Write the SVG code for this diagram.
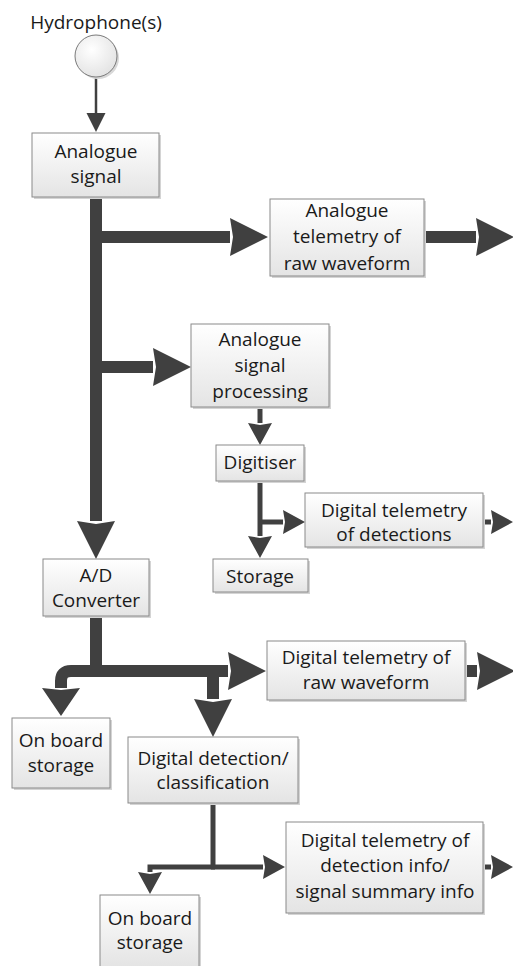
<svg xmlns="http://www.w3.org/2000/svg" width="513" height="966" viewBox="0 0 513 966">
<style>
  .bx{fill:url(#g);stroke:#8a8a8a;stroke-width:1}
  .sh{fill:#d4d4d4}
  .t{font-family:"Open Sans","Liberation Sans",sans-serif;font-size:19px;fill:#1a1a1a;text-anchor:middle}
  .k{fill:none;stroke:#404040;stroke-width:12}
  .n{fill:none;stroke:#404040;stroke-width:5}
  .s{fill:none;stroke:#404040;stroke-width:2.5}
</style>
<defs>
  <linearGradient id="g" x1="0" y1="0" x2="0" y2="1">
    <stop offset="0" stop-color="#ffffff"/>
    <stop offset="1" stop-color="#e4e4e4"/>
  </linearGradient>
  <radialGradient id="cg" cx="0.4" cy="0.35" r="0.7">
    <stop offset="0" stop-color="#ffffff"/>
    <stop offset="1" stop-color="#e2e2e2"/>
  </radialGradient>
  <marker id="ak" markerUnits="userSpaceOnUse" markerWidth="38" markerHeight="38" refX="0" refY="19" orient="auto" overflow="visible">
    <path d="M0,0 L38,19 L0,38 L3,19 z" fill="#404040"/>
  </marker>
  <marker id="aks" markerUnits="userSpaceOnUse" markerWidth="28" markerHeight="38" refX="0" refY="19" orient="auto" overflow="visible">
    <path d="M0,0 L28,19 L0,38 L2,19 z" fill="#404040"/>
  </marker>
  <marker id="an" markerUnits="userSpaceOnUse" markerWidth="22" markerHeight="24" refX="0" refY="12" orient="auto" overflow="visible">
    <path d="M0,0 L22,12 L0,24 L2,12 z" fill="#404040"/>
  </marker>
  <marker id="as" markerUnits="userSpaceOnUse" markerWidth="19" markerHeight="19" refX="0" refY="9.5" orient="auto" overflow="visible">
    <path d="M0,0 L19,9.5 L0,19 z" fill="#404040"/>
  </marker>
</defs>

<g id="connectors">
  <path class="s" d="M96,77 V113" marker-end="url(#as)"/>
  <path class="k" d="M96,197 V521" marker-end="url(#ak)"/>
  <path class="k" d="M96,237 H230" marker-end="url(#ak)"/>
  <path class="k" d="M424,237 H476" marker-end="url(#ak)"/>
  <path class="k" d="M96,367 H153" marker-end="url(#ak)"/>
  <path class="n" d="M260,407 V423" marker-end="url(#an)"/>
  <path class="n" d="M260,481 V536" marker-end="url(#an)"/>
  <path class="n" d="M260,522 H283" marker-end="url(#an)"/>
  <path class="n" d="M483,522 H491" marker-end="url(#an)"/>
  <path class="k" d="M96,616 V671"/>
  <path class="k" d="M96,671 H228" marker-end="url(#ak)"/>
  <path class="k" d="M100,671 H71 Q61,671 61,681 V688" marker-end="url(#aks)"/>
  <path class="k" d="M213,671 V699" marker-end="url(#ak)"/>
  <path class="k" d="M465,671 H477" marker-end="url(#ak)"/>
  <path class="n" d="M213,803 V867"/>
  <path class="n" d="M215,867 H150 V872" marker-end="url(#an)"/>
  <path class="n" d="M211,867 H263" marker-end="url(#an)"/>
  <path class="n" d="M483,867 H491" marker-end="url(#an)"/>
</g>

<g id="hydrophone">
  <circle cx="98" cy="58" r="21" fill="#d8d8d8"/>
  <circle cx="96" cy="56" r="21" fill="url(#cg)" stroke="#7a7a7a" stroke-width="1"/>
  <text class="t" x="96" y="29">Hydrophone(s)</text>
</g>

<g id="analogue-signal">
  <rect class="sh" x="34" y="135" width="127" height="64"/>
  <rect class="bx" x="32" y="133" width="127" height="64"/>
  <text class="t" x="96" y="158">Analogue</text>
  <text class="t" x="96" y="183">signal</text>
</g>

<g id="analogue-telemetry">
  <rect class="sh" x="272" y="201" width="154" height="77"/>
  <rect class="bx" x="270" y="199" width="154" height="77"/>
  <text class="t" x="347" y="217">Analogue</text>
  <text class="t" x="347" y="243">telemetry of</text>
  <text class="t" x="347" y="270">raw waveform</text>
</g>

<g id="analogue-processing">
  <rect class="sh" x="193" y="326" width="138" height="83"/>
  <rect class="bx" x="191" y="324" width="138" height="83"/>
  <text class="t" x="260" y="346">Analogue</text>
  <text class="t" x="260" y="372">signal</text>
  <text class="t" x="260" y="398">processing</text>
</g>

<g id="digitiser">
  <rect class="sh" x="218" y="447" width="88" height="36"/>
  <rect class="bx" x="216" y="445" width="88" height="36"/>
  <text class="t" x="260" y="469">Digitiser</text>
</g>

<g id="digital-telemetry-detections">
  <rect class="sh" x="307" y="495" width="178" height="54"/>
  <rect class="bx" x="305" y="493" width="178" height="54"/>
  <text class="t" x="394" y="517">Digital telemetry</text>
  <text class="t" x="394" y="541">of detections</text>
</g>

<g id="storage">
  <rect class="sh" x="215" y="561" width="95" height="33"/>
  <rect class="bx" x="213" y="559" width="95" height="33"/>
  <text class="t" x="260" y="583">Storage</text>
</g>

<g id="ad-converter">
  <rect class="sh" x="45" y="561" width="106" height="57"/>
  <rect class="bx" x="43" y="559" width="106" height="57"/>
  <text class="t" x="96" y="582">A/D</text>
  <text class="t" x="96" y="607">Converter</text>
</g>

<g id="digital-telemetry-raw">
  <rect class="sh" x="269" y="643" width="198" height="59"/>
  <rect class="bx" x="267" y="641" width="198" height="59"/>
  <text class="t" x="366" y="664">Digital telemetry of</text>
  <text class="t" x="366" y="689">raw waveform</text>
</g>

<g id="onboard-storage-1">
  <rect class="sh" x="14" y="720" width="98" height="70"/>
  <rect class="bx" x="12" y="718" width="98" height="70"/>
  <text class="t" x="61" y="747">On board</text>
  <text class="t" x="61" y="772">storage</text>
</g>

<g id="digital-detection">
  <rect class="sh" x="130" y="739" width="170" height="66"/>
  <rect class="bx" x="128" y="737" width="170" height="66"/>
  <text class="t" x="213" y="765">Digital detection/</text>
  <text class="t" x="213" y="789">classification</text>
</g>

<g id="digital-telemetry-info">
  <rect class="sh" x="288" y="824" width="197" height="91"/>
  <rect class="bx" x="286" y="822" width="197" height="91"/>
  <text class="t" x="385" y="847">Digital telemetry of</text>
  <text class="t" x="385" y="872">detection info/</text>
  <text class="t" x="385" y="898">signal summary info</text>
</g>

<g id="onboard-storage-2">
  <rect class="sh" x="102" y="897" width="99" height="72"/>
  <rect class="bx" x="100" y="895" width="99" height="72"/>
  <text class="t" x="150" y="925">On board</text>
  <text class="t" x="150" y="949">storage</text>
</g>
</svg>
